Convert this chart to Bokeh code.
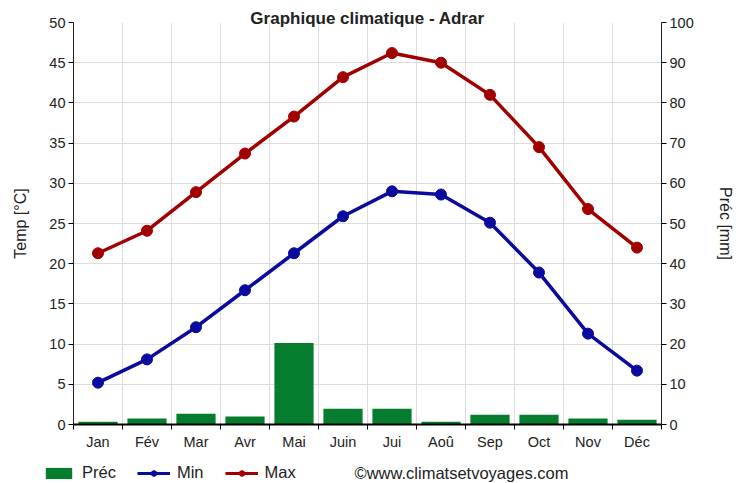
from bokeh.plotting import figure
from bokeh.models import (Range1d, LinearAxis, FixedTicker, Legend, LegendItem, ColumnDataSource, Label)
from bokeh.layouts import column
from bokeh.embed import file_html
from bokeh.resources import INLINE

months = ["Jan", "Fév", "Mar", "Avr", "Mai", "Juin", "Jui", "Aoû", "Sep", "Oct", "Nov", "Déc"]
t_min = [5.2, 8.1, 12.1, 16.7, 21.3, 25.9, 29.0, 28.6, 25.1, 18.9, 11.3, 6.7]
t_max = [21.3, 24.1, 28.9, 33.7, 38.3, 43.2, 46.2, 45.0, 41.0, 34.5, 26.8, 22.0]
prec = [0.7, 1.5, 2.7, 2.0, 20.3, 3.9, 3.9, 0.7, 2.4, 2.4, 1.5, 1.2]
title_text = "Graphique climatique - Adrar"
credit_text = "©www.climatsetvoyages.com"

FONT = "Liberation Sans"
GREEN, BLUE, RED = "#067c2f", "#0a0a9e", "#a00000"
x = [i + 0.5 for i in range(len(months))]
src = ColumnDataSource(dict(x=x, tmin=t_min, tmax=t_max, prec=prec))

p = figure(width=736, height=461, output_backend="svg", toolbar_location=None,
           x_range=Range1d(0, 12), y_range=Range1d(0, 50),
           min_border_left=73, min_border_right=75, min_border_top=22, min_border_bottom=37)
p.frame_align = False
p.outline_line_color = None
p.extra_y_ranges = {"prec": Range1d(0, 100)}

p.title.text = title_text
p.title.text_font = FONT
p.title.text_font_size = "17px"
p.title.text_font_style = "bold"
p.title.align = "center"
p.title.text_color = "#222222"
p.title.standoff = -10

# axes
p.xaxis.ticker = FixedTicker(ticks=x, minor_ticks=list(range(13)))
p.xaxis.major_label_overrides = {v: m for v, m in zip(x, months)}
p.xaxis.major_tick_line_color = None
p.xaxis.major_tick_out = 0
p.xaxis.major_tick_in = 0
p.xaxis.minor_tick_line_color = "black"
p.xaxis.minor_tick_out = 5
p.xaxis.minor_tick_in = 0
p.xaxis.axis_line_color = "black"
p.xaxis.axis_line_width = 2
p.xaxis.major_label_text_font = FONT
p.xaxis.major_label_text_font_size = "14.5px"
p.xaxis.major_label_text_color = "#222222"
p.xaxis.major_label_standoff = 4

p.yaxis.ticker = FixedTicker(ticks=list(range(0, 51, 5)))
p.yaxis.axis_label = "Temp [°C]"
p.yaxis.minor_tick_line_color = None
p.yaxis.major_tick_out = 5
p.yaxis.major_tick_in = 0
p.yaxis.axis_line_color = "#222222"

ax2 = LinearAxis(y_range_name="prec", ticker=FixedTicker(ticks=list(range(0, 101, 10))),
                 axis_label="Préc [mm]")
ax2.minor_tick_line_color = None
ax2.major_tick_out = 5
ax2.major_tick_in = 0
ax2.axis_line_color = "#222222"
p.add_layout(ax2, "right")

for ax in [p.yaxis[0], ax2]:
    ax.major_label_text_font = FONT
    ax.major_label_text_font_size = "14.5px"
    ax.major_label_text_color = "#222222"
    ax.axis_label_text_font = FONT
    ax.axis_label_text_font_size = "16px"
    ax.axis_label_text_font_style = "normal"
    ax.axis_label_text_color = "#222222"
    ax.major_label_standoff = 3
p.yaxis[0].axis_label_standoff = 17
ax2.axis_label_standoff = 20

# grids
p.xgrid.ticker = FixedTicker(ticks=list(range(13)))
p.xgrid.grid_line_color = "#dddddd"
p.ygrid.grid_line_color = "#dddddd"

# glyphs
p.vbar(x="x", top="prec", width=0.8, bottom=0, source=src, y_range_name="prec",
       fill_color=GREEN, line_color=None)
p.line("x", "tmin", source=src, line_color=BLUE, line_width=3.5)
p.scatter("x", "tmin", source=src, size=11, fill_color=BLUE, line_color=BLUE)
p.line("x", "tmax", source=src, line_color=RED, line_width=3.5)
p.scatter("x", "tmax", source=src, size=11, fill_color=RED, line_color=RED)

# legend strip (its renderers reuse the data, but the strip's ranges keep them out of view)
lf = figure(width=736, height=22, output_backend="svg", toolbar_location=None,
            x_range=Range1d(100, 101), y_range=Range1d(100, 101),
            x_axis_location=None, y_axis_location=None,
            min_border_left=0, min_border_right=0, min_border_top=0, min_border_bottom=0)
lf.frame_align = False
lf.outline_line_color = None
lf.grid.visible = False
r_bar = lf.vbar(x="x", top="prec", width=0.8, source=src, fill_color=GREEN, line_color=None)
r_l1 = lf.line("x", "tmin", source=src, line_color=BLUE, line_width=3)
r_c1 = lf.scatter("x", "tmin", source=src, size=6, fill_color=BLUE, line_color=BLUE)
r_l2 = lf.line("x", "tmax", source=src, line_color=RED, line_width=3)
r_c2 = lf.scatter("x", "tmax", source=src, size=6, fill_color=RED, line_color=RED)
legend = Legend(items=[LegendItem(label="Préc", renderers=[r_bar]),
                       LegendItem(label="Min", renderers=[r_l1, r_c1]),
                       LegendItem(label="Max", renderers=[r_l2, r_c2])],
                orientation="horizontal", location=(42, 1),
                label_text_font=FONT, label_text_font_size="16.5px", label_text_color="#222222",
                glyph_width=33, glyph_height=14, label_standoff=7, spacing=21,
                padding=0, margin=0, border_line_color=None, background_fill_alpha=0)
lf.add_layout(legend, "center")
lf.add_layout(Label(x=354, y=11, x_units="screen", y_units="screen", text=credit_text,
                    text_font=FONT, text_font_size="16.5px", text_baseline="middle",
                    text_color="#222222"))

open("out.html", "w").write(file_html(column(p, lf, spacing=0), INLINE))
